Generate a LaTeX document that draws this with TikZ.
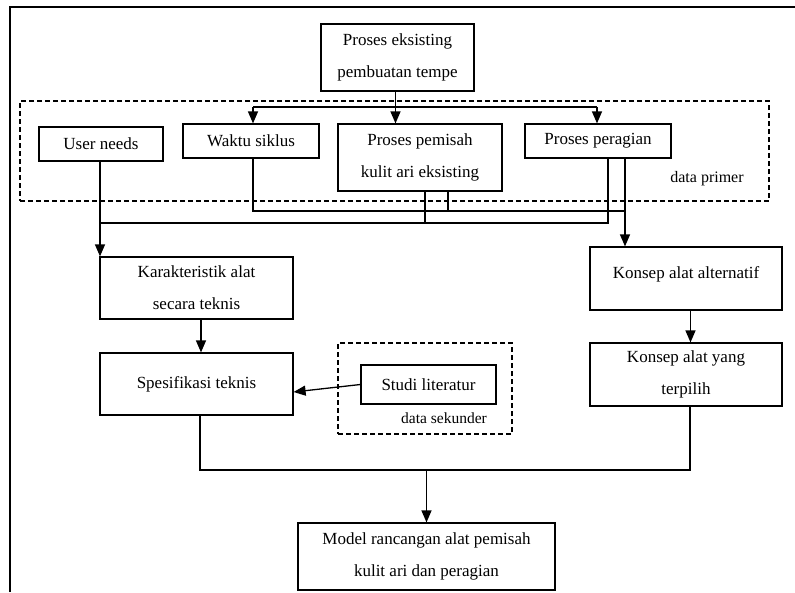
\documentclass[tikz,border=0pt]{standalone}
\usepackage{fontspec}
\setmainfont{Liberation Serif}
\usetikzlibrary{arrows.meta,calc}
\begin{document}
\begin{tikzpicture}[x=1pt,y=-1pt,
  box/.style={draw, line width=1.2pt, inner sep=0pt, align=center,
    font=\fontsize{17}{32}\selectfont},
  dbox/.style={draw, line width=1.1pt, dash pattern=on 5pt off 3pt, inner sep=0pt},
  lbl/.style={inner sep=0pt, font=\fontsize{16}{20}\selectfont},
  conn/.style={line width=1.3pt},
  arr/.style={line width=1.3pt, -{Triangle[width=10pt,length=12pt]}}]
\useasboundingbox (0,0) rectangle (795,592);
% frame
\draw[line width=1.6pt] (10,592) -- (10,7) -- (795,7);
% dashed groups
\node[dbox, minimum width=749pt, minimum height=100pt] (primer) at (394.5,151) {};
\node[dbox, minimum width=174pt, minimum height=91pt] (sekunder) at (425,388.5) {};
% boxes
\node[box, minimum width=153pt, minimum height=67pt] (top) at (397.5,57.5) {Proses eksisting\\pembuatan tempe};
\node[box, minimum width=124pt, minimum height=34pt] (user) at (101,144) {User needs};
\node[box, minimum width=136pt, minimum height=34pt] (waktu) at (251,141) {Waktu siklus};
\node[box, minimum width=164pt, minimum height=67pt] (pemisah) at (420,157.5) {Proses pemisah\\kulit ari eksisting};
\node[box, minimum width=146pt, minimum height=34pt] (peragian) at (598,141) {Proses peragian};
\node[box, minimum width=193pt, minimum height=62pt] (karakteristik) at (196.5,288) {Karakteristik alat\\secara teknis};
\node[box, minimum width=193pt, minimum height=62pt] (spesifikasi) at (196.5,384) {Spesifikasi teknis};
\node[box, minimum width=135pt, minimum height=39pt] (studi) at (428.5,384.5) {Studi literatur};
\node[box, minimum width=192pt, minimum height=63pt, text depth=12pt] (alternatif) at (686,278.5) {Konsep alat alternatif};
\node[box, minimum width=192pt, minimum height=63pt] (terpilih) at (686,374.5) {Konsep alat yang\\terpilih};
\node[box, minimum width=257pt, minimum height=67pt] (model) at (426.5,556.5) {Model rancangan alat pemisah\\kulit ari dan peragian};
% labels
\node[lbl] (dp) at (707,179) {data primer};
\node[lbl, font=\fontsize{15.5}{20}\selectfont] (ds) at (444,418) {data sekunder};
% connectors top branch
\coordinate (bl) at (253,107);
\coordinate (brr) at (597,107);
\draw[conn] (bl) -- (brr);
\draw[arr] (bl) -- (bl |- waktu.north);
\draw[arr] (brr) -- (brr |- peragian.north);
\draw[arr] ([xshift=-2pt]top.south) -- ([xshift=-2pt]top.south |- pemisah.north);
% lower collectors
\coordinate (hu1) at (253,211);
\coordinate (hu2) at (625,211);
\coordinate (hl1) at (100,223);
\coordinate (p1) at (425,223);
\coordinate (p2) at (448,211);
\coordinate (g1) at (608,223);
\draw[conn] (hu1 |- waktu.south) -- (hu1) -- (hu2);
\draw[conn] (p2 |- pemisah.south) -- (p2);
\draw[conn] (p1 |- pemisah.south) -- (p1);
\draw[conn] (g1 |- peragian.south) -- (g1) -- (hl1);
\draw[arr] (hu2 |- peragian.south) -- (hu2 |- alternatif.north);
\draw[arr] (hl1 |- user.south) -- (hl1 |- karakteristik.north);
% middle
\draw[arr] ([xshift=4.5pt]karakteristik.south) -- ([xshift=4.5pt]spesifikasi.north);
\draw[arr] (studi.west) -- ([yshift=-8pt]spesifikasi.east);
\draw[arr] ([xshift=4.5pt]alternatif.south) -- ([xshift=4.5pt]terpilih.north);
% bottom
\coordinate (m1) at (200,470);
\coordinate (m2) at (690,470);
\draw[conn] (m1 |- spesifikasi.south) -- (m1) -- (m2) -- (m2 |- terpilih.south);
\draw[arr] (model.north |- m1) -- (model.north);
\end{tikzpicture}
\end{document}
